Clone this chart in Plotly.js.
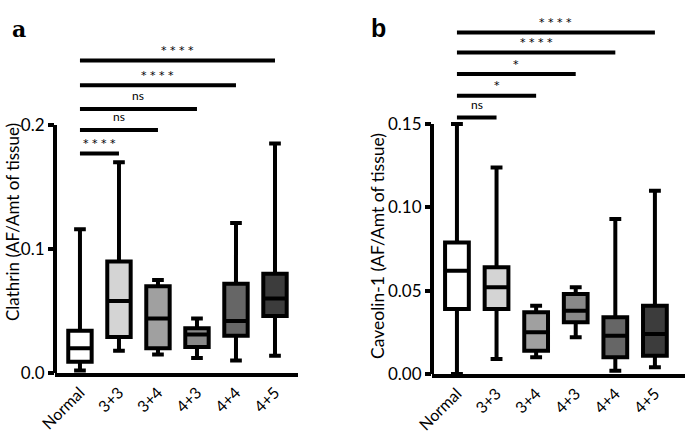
<!DOCTYPE html>
<html>
<head>
<meta charset="utf-8">
<script src="https://cdn.plot.ly/plotly-3.0.1.min.js"></script>
<style>html,body{margin:0;padding:0;background:#fff}#chart{width:685px;height:439px}</style>
</head>
<body>
<div id="chart"></div>
<script>
// ---- data ----
const categories = ['Normal', '3+3', '3+4', '4+3', '4+4', '4+5'];
const boxColors = ['#ffffff', '#d4d4d4', '#a0a0a0', '#888888', '#666666', '#3c3c3c'];

const clathrinMin = [0.002, 0.018, 0.015, 0.012, 0.010, 0.014];
const clathrinQ1  = [0.009, 0.029, 0.020, 0.021, 0.030, 0.046];
const clathrinMed = [0.020, 0.058, 0.044, 0.031, 0.042, 0.060];
const clathrinQ3  = [0.034, 0.090, 0.070, 0.036, 0.072, 0.080];
const clathrinMax = [0.116, 0.170, 0.075, 0.044, 0.121, 0.185];

const caveolinMin = [0.000, 0.009, 0.010, 0.022, 0.002, 0.004];
const caveolinQ1  = [0.039, 0.039, 0.014, 0.031, 0.010, 0.011];
const caveolinMed = [0.062, 0.052, 0.025, 0.038, 0.023, 0.024];
const caveolinQ3  = [0.079, 0.064, 0.037, 0.048, 0.034, 0.041];
const caveolinMax = [0.150, 0.124, 0.041, 0.052, 0.093, 0.110];

// significance comparisons: Normal vs each group
const sigTargets = ['3+3', '3+4', '4+3', '4+4', '4+5'];
const clathrinSig = ['****', 'ns', 'ns', '****', '****'];
const clathrinSigLevel = [0.177, 0.196, 0.213, 0.232, 0.252];
const caveolinSig = ['ns', '*', '*', '****', '****'];
const caveolinSigLevel = [0.154, 0.167, 0.180, 0.193, 0.205];

const clathrinTicks = [0, 0.1, 0.2];
const clathrinTickText = ['0.0', '0.1', '0.2'];
const caveolinTicks = [0, 0.05, 0.10, 0.15];
const caveolinTickText = ['0.00', '0.05', '0.10', '0.15'];

const clathrinTitle = 'Clathrin (AF/Amt of tissue)';
const caveolinTitle = 'Caveolin-1 (AF/Amt of tissue)';

// ---- build ----
const FONT = 'Lato';
const traces = [];
const annotations = [];
const shapes = [];

function addPanel(xa, ya, mn, q1, md, q3, mx, sigLabels, sigLevels) {
  categories.forEach((c, i) => {
    traces.push({
      type: 'box', xaxis: xa, yaxis: ya,
      x: [c], q1: [q1[i]], median: [md[i]], q3: [q3[i]],
      lowerfence: [mn[i]], upperfence: [mx[i]],
      width: 0.6, whiskerwidth: 0.5,
      fillcolor: boxColors[i],
      line: {color: '#000', width: 4},
      boxpoints: false, hoverinfo: 'skip', showlegend: false
    });
  });
  sigTargets.forEach((t, k) => {
    traces.push({
      type: 'scatter', mode: 'lines', xaxis: xa, yaxis: ya,
      x: [categories[0], t], y: [sigLevels[k], sigLevels[k]],
      line: {color: '#000', width: 4}, hoverinfo: 'skip', showlegend: false,
      cliponaxis: false
    });
    const idx = categories.indexOf(t);
    const isStar = sigLabels[k] !== 'ns';
    annotations.push({
      xref: xa, yref: ya, x: idx / 2, y: sigLevels[k],
      text: isStar ? sigLabels[k].split('').join(' ') : sigLabels[k],
      showarrow: false, yanchor: 'middle', yshift: isStar ? 10 : 13,
      font: isStar ? {family: 'DejaVu Sans', size: 11, color: '#000'} : {family: FONT, size: 12, color: '#000'}
    });
  });
}

addPanel('x', 'y', clathrinMin, clathrinQ1, clathrinMed, clathrinQ3, clathrinMax, clathrinSig, clathrinSigLevel);
addPanel('x2', 'y2', caveolinMin, caveolinQ1, caveolinMed, caveolinQ3, caveolinMax, caveolinSig, caveolinSigLevel);

// y axis lines only up to top tick
shapes.push({type: 'line', xref: 'x domain', yref: 'y', x0: 0, x1: 0, y0: 0, y1: 0.2, line: {color: '#000', width: 4}});
shapes.push({type: 'line', xref: 'x2 domain', yref: 'y2', x0: 0, x1: 0, y0: 0, y1: 0.15, line: {color: '#000', width: 4}});

// axis titles
annotations.push({xref: 'paper', yref: 'paper', x: 12 / 685, y: 1 - 222 / 439, text: clathrinTitle, textangle: -90,
  showarrow: false, xanchor: 'center', yanchor: 'middle', font: {family: FONT, size: 17, color: '#000'}});
annotations.push({xref: 'paper', yref: 'paper', x: 377 / 685, y: 1 - 246 / 439, text: caveolinTitle, textangle: -90,
  showarrow: false, xanchor: 'center', yanchor: 'middle', font: {family: FONT, size: 17.5, color: '#000'}});

annotations.push({xref: 'paper', yref: 'paper', x: 10 / 685, y: 1 - 14 / 439, text: '<b>a</b>', showarrow: false,
  font: {family: 'DejaVu Serif', size: 22, color: '#000'}});
annotations.push({xref: 'paper', yref: 'paper', x: 378 / 685, y: 1 - 12 / 439, text: '<b>b</b>', showarrow: false,
  font: {family: 'Liberation Sans', size: 25, color: '#000'}});

const xCommon = {
  type: 'category', categoryorder: 'array', categoryarray: categories,
  showline: true, linewidth: 4, linecolor: '#000', ticks: '', showgrid: false, zeroline: false,
  tickangle: -45, tickfont: {family: FONT, size: 16, color: '#000'}, fixedrange: true
};
const yCommon = {
  showline: false, ticks: 'outside', ticklen: 6, tickwidth: 4, tickcolor: '#000',
  showgrid: false, zeroline: false, tickfont: {family: FONT, size: 17, color: '#000'}, fixedrange: true
};

const layout = {
  width: 685, height: 439,
  margin: {l: 0, r: 0, t: 0, b: 0},
  paper_bgcolor: '#fff', plot_bgcolor: 'rgba(0,0,0,0)',
  showlegend: false, boxmode: 'overlay',
  xaxis: Object.assign({}, xCommon, {domain: [55 / 685, 298 / 685], range: [-0.64, 5.59], anchor: 'y'}),
  yaxis: Object.assign({}, yCommon, {domain: [1 - 373 / 439, 1 - 38.2 / 439], range: [0, 0.27], anchor: 'x',
    tickvals: clathrinTicks, ticktext: clathrinTickText}),
  xaxis2: Object.assign({}, xCommon, {domain: [432 / 685, 1], range: [-0.63, 5.76], anchor: 'y2'}),
  yaxis2: Object.assign({}, yCommon, {domain: [1 - 374 / 439, 1 - 15.8 / 439], range: [0, 0.215], anchor: 'x2',
    tickvals: caveolinTicks, ticktext: caveolinTickText}),
  shapes: shapes,
  annotations: annotations
};

Plotly.newPlot('chart', traces, layout, {staticPlot: true, displayModeBar: false});
</script>
</body>
</html>
